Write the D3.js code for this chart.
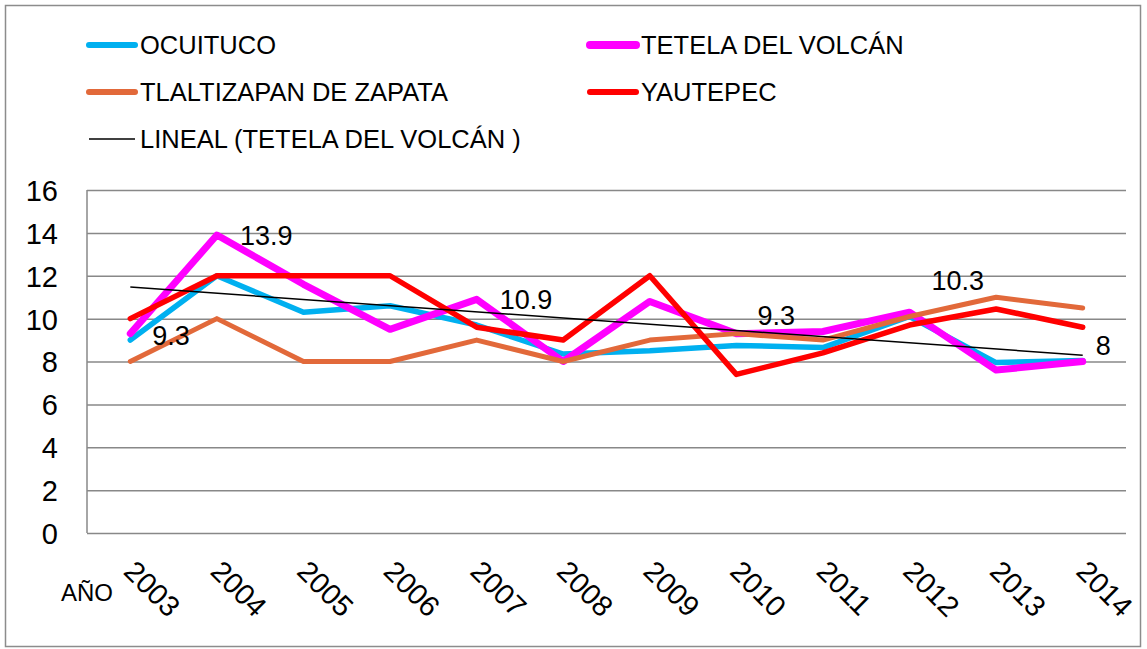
<!DOCTYPE html>
<html>
<head>
<meta charset="utf-8">
<script src="https://cdn.jsdelivr.net/npm/d3@7"></script>
<style>
  body { margin: 0; background: #fff; }
  svg text { font-family: "Liberation Sans", Arial, sans-serif; fill: #000; }
</style>
</head>
<body>
<svg id="chart" width="1147" height="649"></svg>
<script>
var years = ["2003","2004","2005","2006","2007","2008","2009","2010","2011","2012","2013","2014"];

var ocuituco    = [9.0, 12.0, 10.3, 10.6, 9.7, 8.35, 8.5, 8.75, 8.65, 10.1, 7.95, 8.05];
var tetela      = [9.3, 13.9, 11.6, 9.5, 10.9, 8.0, 10.8, 9.3, 9.4, 10.3, 7.6, 8.0];
var tlaltizapan = [8.0, 10.0, 8.0, 8.0, 9.0, 8.0, 9.0, 9.3, 9.0, 10.1, 11.0, 10.5];
var yautepec    = [10.0, 12.0, 12.0, 12.0, 9.6, 9.0, 12.0, 7.4, 8.4, 9.7, 10.45, 9.6];

var seriesNames  = ["OCUITUCO", "TETELA DEL VOLCÁN", "TLALTIZAPAN DE ZAPATA", "YAUTEPEC"];
var seriesColors = ["#00b0f0", "#ff00ff", "#e2693a", "#ff0000"];
var seriesWidths = [5.5, 7, 5, 5.5];
var trendName = "LINEAL (TETELA DEL VOLCÁN )";

var yTicks = [0, 2, 4, 6, 8, 10, 12, 14, 16];

// data labels shown on the Tetela series
var labelYears = ["2003","2004","2007","2010","2012","2014"];
var labelTexts = ["9.3","13.9","10.9","9.3","10.3","8"];

var svg = d3.select('#chart');

// outer frame
svg.append('rect')
	.attr('x', 5.5).attr('y', 5.5)
	.attr('width', 1135).attr('height', 641)
	.attr('fill', 'none')
	.attr('stroke', '#8c8c8c')
	.attr('stroke-width', 1.5);

var x = d3.scalePoint()
	.domain(years)
	.range([87, 1126])
	.padding(0.5);

var y = d3.scaleLinear()
	.domain([0, 16])
	.range([533, 190]);

// gridlines + y tick labels
var yAxis = svg.append('g')
	.attr('transform', 'translate(87,0)')
	.call(d3.axisLeft(y)
		.tickValues(yTicks)
		.tickSize(-(1126 - 87))
		.tickPadding(29));

yAxis.select('.domain').remove();
yAxis.selectAll('.tick line')
	.attr('stroke', '#888')
	.attr('stroke-width', 1.5);
yAxis.selectAll('.tick text')
	.style('font-size', '29px')
	.attr('dy', '0.36em');

svg.append('line')
	.attr('x1', 87).attr('x2', 87)
	.attr('y1', y(16)).attr('y2', y(0))
	.attr('stroke', '#888')
	.attr('stroke-width', 1.5);

// x labels, rotated
svg.selectAll('.xlab')
	.data(years)
	.enter().append('text')
	.attr('class', 'xlab')
	.attr('transform', function(d) { return 'translate(' + (x(d) - 8) + ',573) rotate(45)'; })
	.style('font-size', '29px')
	.text(function(d) { return d; });

svg.append('text')
	.attr('x', 61).attr('y', 601)
	.style('font-size', '24px')
	.text('AÑO');

// series lines
var line = d3.line()
	.x(function(d, i) { return x(years[i]); })
	.y(function(d) { return y(d); });

var allSeries = [ocuituco, tetela, tlaltizapan, yautepec];

svg.selectAll('.series')
	.data(allSeries)
	.enter().append('path')
	.attr('class', 'series')
	.attr('d', line)
	.attr('fill', 'none')
	.attr('stroke', function(d, i) { return seriesColors[i]; })
	.attr('stroke-width', function(d, i) { return seriesWidths[i]; })
	.attr('stroke-linejoin', 'round')
	.attr('stroke-linecap', 'round');

// linear trend of Tetela (least squares)
var n = tetela.length;
var mx = d3.mean(tetela, function(d, i) { return i; });
var my = d3.mean(tetela);
var sxy = d3.sum(tetela, function(d, i) { return (i - mx) * (d - my); });
var sxx = d3.sum(tetela, function(d, i) { return (i - mx) * (i - mx); });
var slope = sxy / sxx;
var icpt = my - slope * mx;
var trend = [icpt, icpt + slope * (n - 1)];

svg.append('line')
	.attr('x1', x(years[0])).attr('y1', y(trend[0]))
	.attr('x2', x(years[n - 1])).attr('y2', y(trend[1]))
	.attr('stroke', '#000')
	.attr('stroke-width', 1.5);

// data labels
var labelShift = [2, 0, 0, -18, -32, -16];
var labelDx = [22, 23, 23, 21, 22, 13];
svg.selectAll('.dlab')
	.data(labelYears)
	.enter().append('text')
	.attr('class', 'dlab')
	.attr('x', function(d, i) { return x(d) + labelDx[i]; })
	.attr('y', function(d, i) { return y(tetela[years.indexOf(d)]) + labelShift[i]; })
	.attr('dy', '0.36em')
	.style('font-size', '27px')
	.text(function(d, i) { return labelTexts[i]; });

// legend
var legendItems = [
	{ name: seriesNames[0], color: seriesColors[0], w: 6, lx: 89, ly: 45 },
	{ name: seriesNames[1], color: seriesColors[1], w: 8, lx: 590, ly: 45 },
	{ name: seriesNames[2], color: seriesColors[2], w: 6, lx: 89, ly: 92 },
	{ name: seriesNames[3], color: seriesColors[3], w: 6, lx: 590, ly: 92 },
	{ name: trendName, color: '#000', w: 1.5, lx: 89, ly: 139 }
];

var leg = svg.selectAll('.leg')
	.data(legendItems)
	.enter().append('g')
	.attr('class', 'leg')
	.attr('transform', function(d) { return 'translate(' + d.lx + ',' + d.ly + ')'; });

leg.append('line')
	.attr('x1', 0).attr('x2', 46)
	.attr('stroke', function(d) { return d.color; })
	.attr('stroke-width', function(d) { return d.w; })
	.attr('stroke-linecap', function(d) { return d.w > 2 ? 'round' : 'butt'; });

leg.append('text')
	.attr('x', 51)
	.attr('dy', '0.36em')
	.style('font-size', '25.5px')
	.text(function(d) { return d.name; });
</script>
</body>
</html>
